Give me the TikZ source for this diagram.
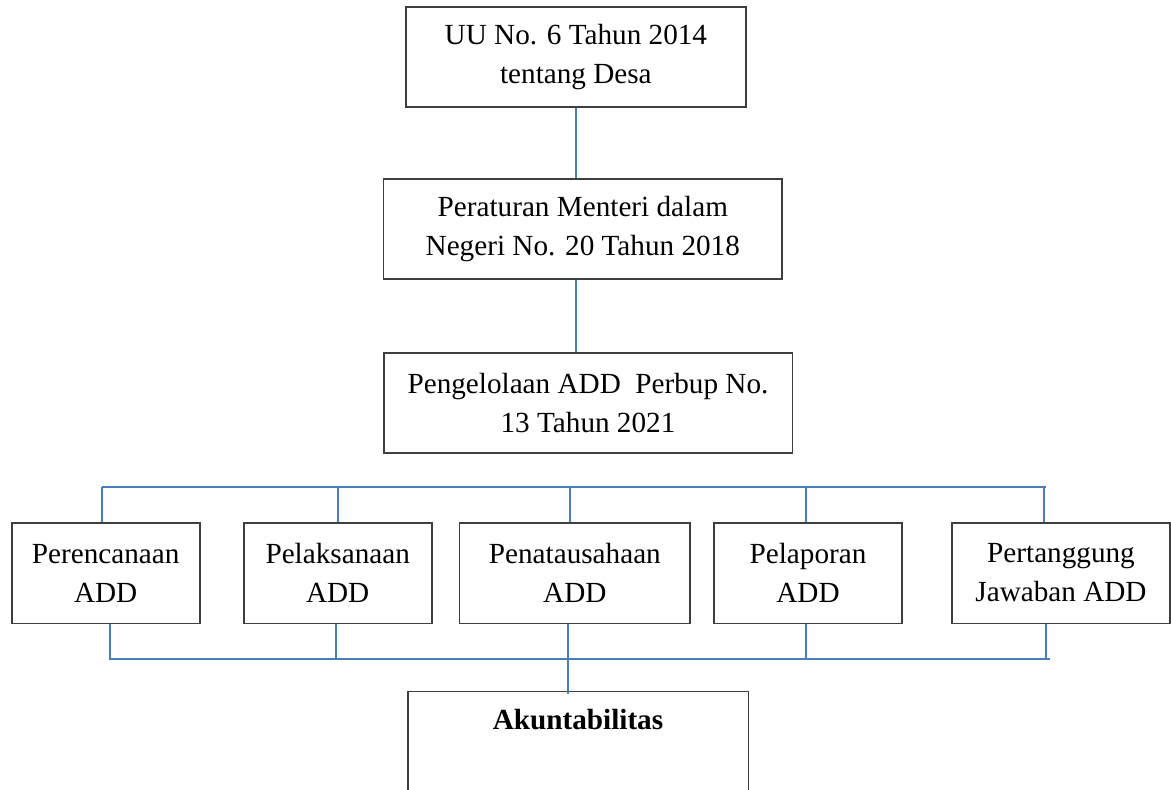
\documentclass[tikz,border=0pt]{standalone}
\usepackage{fontspec}
\setmainfont{Liberation Serif}
\usetikzlibrary{calc}
\definecolor{linkblue}{HTML}{4A7EBB}
\definecolor{boxgray}{HTML}{3F3F3F}

\begin{document}
\begin{tikzpicture}[x=0.5pt, y=-0.5pt,
    box/.style={draw=boxgray, line width=0.8pt, align=center, inner sep=0pt,
        font=\fontsize{14.6}{19.5}\selectfont},
    row/.style={box, minimum height=50.3pt},
    link/.style={draw=linkblue, line width=1pt}]
    \path[use as bounding box, clip] (0, 0) rectangle (1171, 789);

    % legal basis, top to bottom
    \node[box, minimum width=170.2pt, minimum height=50pt] (uu) at (575.9, 56.7)
        {UU No. 6 Tahun 2014\\tentang Desa};
    \node[box, minimum width=199.2pt, minimum height=49.9pt] (pmd) at (582.8, 228.8)
        {Peraturan Menteri dalam\\Negeri No. 20 Tahun 2018};
    \node[box, minimum width=204.3pt, minimum height=50pt] (perbup) at (588, 402.7)
        {Pengelolaan ADD \ Perbup No.\\13 Tahun 2021};

    % stages
    \node[row, minimum width=94pt] (ren) at (105.7, 573) {Perencanaan\\ADD};
    \node[row, minimum width=94pt] (lak) at (337.7, 573) {Pelaksanaan\\ADD};
    \node[row, minimum width=115.2pt] (tata) at (574.85, 573) {Penatausahaan\\ADD};
    \node[row, minimum width=94pt] (lap) at (808, 573) {Pelaporan\\ADD};
    \node[row, minimum width=109pt] (tgj) at (1061, 573) {Pertanggung\\Jawaban ADD};

    \node[box, anchor=north, minimum width=170.3pt, text height=18.8pt, text depth=41pt,
        font=\fontsize{14.6}{19.5}\selectfont\bfseries] (akun) at (578, 690.7) {Akuntabilitas};

    % spine
    \coordinate (spine) at (576, 0);
    \draw[link] (spine |- uu.south) -- (spine |- pmd.north);
    \draw[link] (spine |- pmd.south) -- (spine |- perbup.north);

    % buses
    \coordinate (tl) at (102, 487.3);
    \coordinate (tr) at (1046, 487.3);
    \coordinate (bl) at (109.7, 658.7);
    \coordinate (br) at (1050.3, 658.7);
    \draw[link] (tl) -- (tr);
    \draw[link] (bl) -- (br);

    \foreach \n/\dx in {ren/-3.7, lak/0.6, tata/-4.85, lap/-2, tgj/-16.7}
        \draw[link] ($(\n.north) + (\dx, 0)$) -- ++(0, -35.4);
    \foreach \n/\dx in {ren/4, lak/-1.7, lap/-2, tgj/-15}
        \draw[link] ($(\n.south) + (\dx, 0)$) -- ++(0, 35.4);
    \draw[link] ($(tata.south) + (-6.55, 0)$) -- ($(akun.north) + (-9.7, 3.3)$);
\end{tikzpicture}
\end{document}
